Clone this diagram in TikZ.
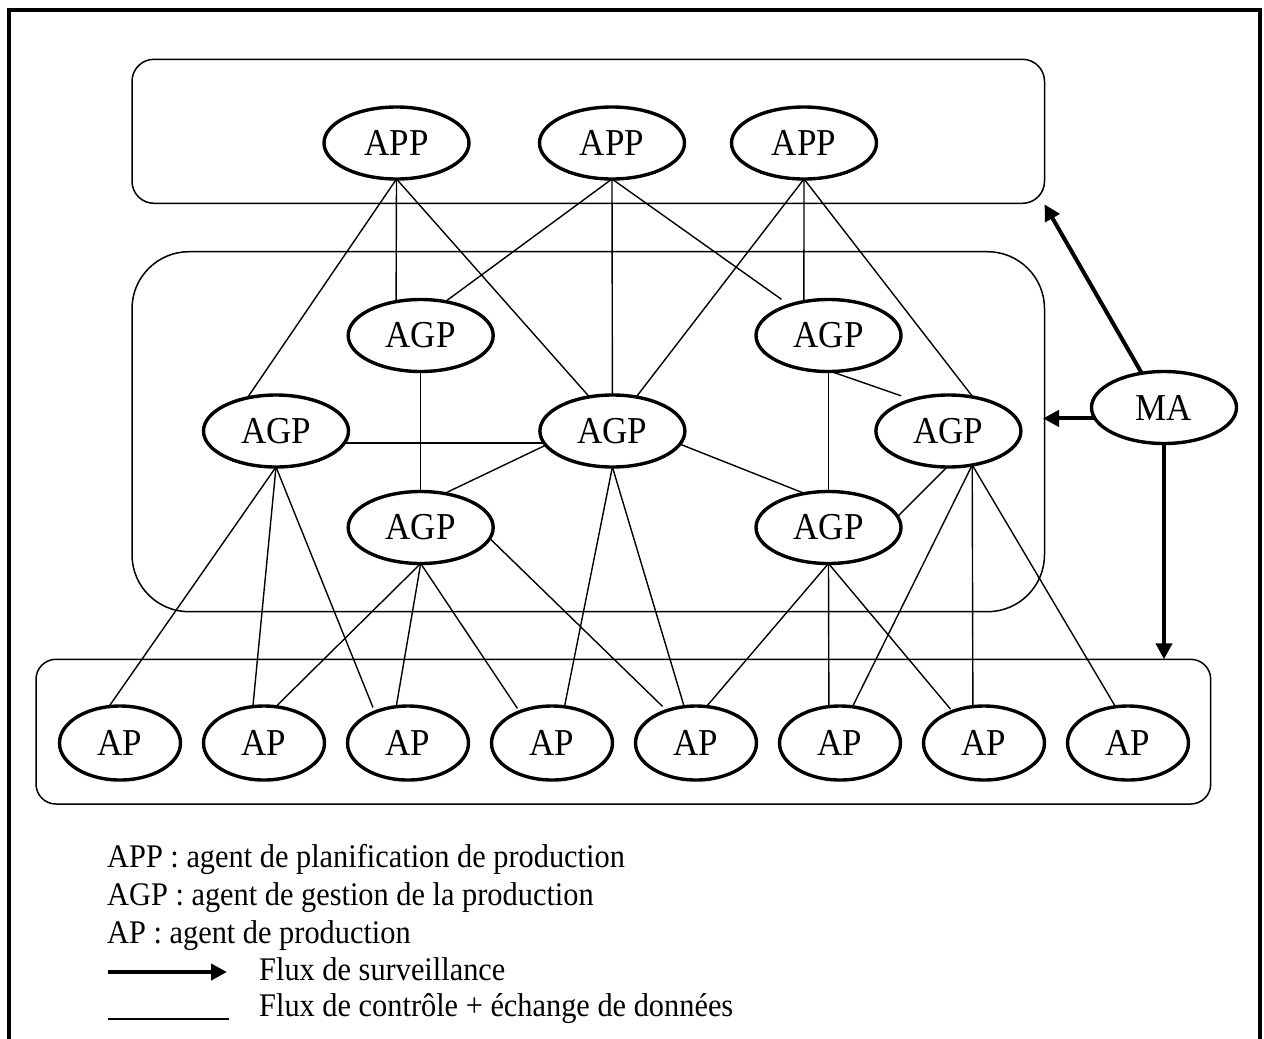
\documentclass[tikz,border=0pt]{standalone}
\usepackage{fontspec}
\setmainfont{Liberation Serif}
\newfontfamily\narrowserif[FakeStretch=0.92]{Liberation Serif}
\usetikzlibrary{shapes.geometric,arrows.meta}
\newcommand\agentfont{\narrowserif\fontsize{38}{42}\selectfont}
\newcommand\legendfont{\narrowserif\fontsize{33}{38}\selectfont}

\begin{document}
\begin{tikzpicture}[x=1pt,y=-1pt,
  agent/.style={ellipse, draw, fill=white, line width=3.4pt, minimum width=145pt,
    minimum height=72pt, inner sep=0pt, outer sep=0pt, font=\agentfont},
  apnode/.style={agent, minimum width=121pt, minimum height=74pt},
  layer/.style={draw, line width=1.5pt, inner sep=0pt, outer sep=0pt},
  link/.style={line width=1.4pt},
  watch/.style={line width=4pt, -{Triangle[length=16pt,width=16pt]}},
  legendtext/.style={anchor=base west, inner sep=0pt, font=\legendfont}]

\useasboundingbox (0,0) rectangle (1264,1039);

% outer frame (open at the bottom)
\draw[line width=3.5pt] (9,1039) -- (9,10) -- (1260,10) -- (1260,1039);

% the three layers
\node[layer, rounded corners=22pt, minimum width=912.5pt, minimum height=144pt]
  (applayer) at (588.25,131.3) {};
\node[layer, rounded corners=57pt, minimum width=912.5pt, minimum height=360pt]
  (agplayer) at (588.25,431.7) {};
\node[layer, rounded corners=20pt, minimum width=1174.7pt, minimum height=144.7pt]
  (aplayer) at (623.35,731.65) {};

% planning agents
\node[agent] (app1) at (396.5,143) {APP};
\node[agent] (app2) at (612,143) {APP};
\node[agent] (app3) at (804,143) {APP};

% management agents
\node[agent] (agp1) at (420.7,335.5) {AGP};
\node[agent] (agp2) at (828.5,335.5) {AGP};
\node[agent] (agp3) at (276,431) {AGP};
\node[agent] (agp4) at (612.4,431) {AGP};
\node[agent] (agp5) at (948.4,431) {AGP};
\node[agent] (agp6) at (420.7,527.5) {AGP};
\node[agent] (agp7) at (828.5,527.5) {AGP};

% monitoring agent
\node[agent] (ma) at (1164,407.5) {MA};

% production agents
\foreach \i/\x in {1/120,2/264,3/408,4/552,5/696,6/840,7/984,8/1128}
  \node[apnode] (ap\i) at (\x,743) {AP};

% APP -> AGP links
\draw[link] (app1.south) -- (agp3.131);
\draw[link] (app1.south) -- (agp1.126);
\draw[link] (app1.south) -- (agp4.124.5);
\draw[link] (app2.south) -- (agp1.54.4);
\draw[link] (app2.south) -- (agp4.north);
\draw[link, shorten >=10pt] (app2.south) -- (agp2.142);
\draw[link] (app3.south) -- (agp4.55.5);
\draw[link] (app3.south) -- (agp2.126);
\draw[link] (app3.south) -- (agp5.54.8);

% AGP <-> AGP links
\draw[link] (agp1.south) -- (agp6.north);
\draw[link] (agp3.-10) -- (agp4.190);
\draw[link] (agp4.192) -- (agp6.55);
\draw[link] (agp4.-11) -- (agp7.125);
\draw[link] (agp2.south) -- (agp7.north);
\draw[link, shorten >=12pt] (agp2.-86) -- (agp5.139);
\draw[link] (agp5.-92) -- (agp7.9.5);

% AGP -> AP links
\draw[link] (agp3.south) -- (ap1.107);
\draw[link] (agp3.south) -- (ap2.107);
\draw[link, shorten >=5pt] (agp3.south) -- (ap3.137);
\draw[link] (agp6.south) -- (ap2.72);
\draw[link] (agp6.south) -- (ap3.108);
\draw[link, shorten >=4pt] (agp6.south) -- (ap4.136);
\draw[link, shorten >=6pt] (agp6.-9.4) -- (ap5.132);
\draw[link] (agp4.south) -- (ap4.71);
\draw[link] (agp4.south) -- (ap5.108);
\draw[link] (agp7.south) -- (ap5.74);
\draw[link] (agp7.south) -- (ap6.107);
\draw[link, shorten >=3pt] (agp7.south) -- (ap7.135);
\draw[link] (agp5.-55) -- (ap6.71);
\draw[link] (agp5.-55) -- (ap7.107.7);
\draw[link] (agp5.-55) -- (ap8.109);

% monitoring flows
\draw[watch] (ma.123) -- ([yshift=-1pt]applayer.south east);
\draw[watch, shorten >=-1.5pt] (ma.189) -- (ma.189 -| agplayer.east);
\draw[watch] (ma.south) -- (ma.south |- aplayer.north);

% legend
\node[legendtext] (l1) at (107,867) {APP : agent de planification de production};
\node[legendtext] (l2) at (107,905) {AGP : agent de gestion de la production};
\node[legendtext] (l3) at (107,943) {AP : agent de production};
\node[legendtext] (l4) at (259,980) {Flux de surveillance};
\node[legendtext] (l5) at (259,1016) {Flux de contrôle + échange de données};
\coordinate (a0) at (108,972);
\coordinate (a1) at (227,972);
\draw[watch] (a0) -- (a1);
\coordinate (b0) at (108,1019);
\coordinate (b1) at (229,1019);
\draw[line width=2.2pt] (b0) -- (b1);
\end{tikzpicture}
\end{document}
